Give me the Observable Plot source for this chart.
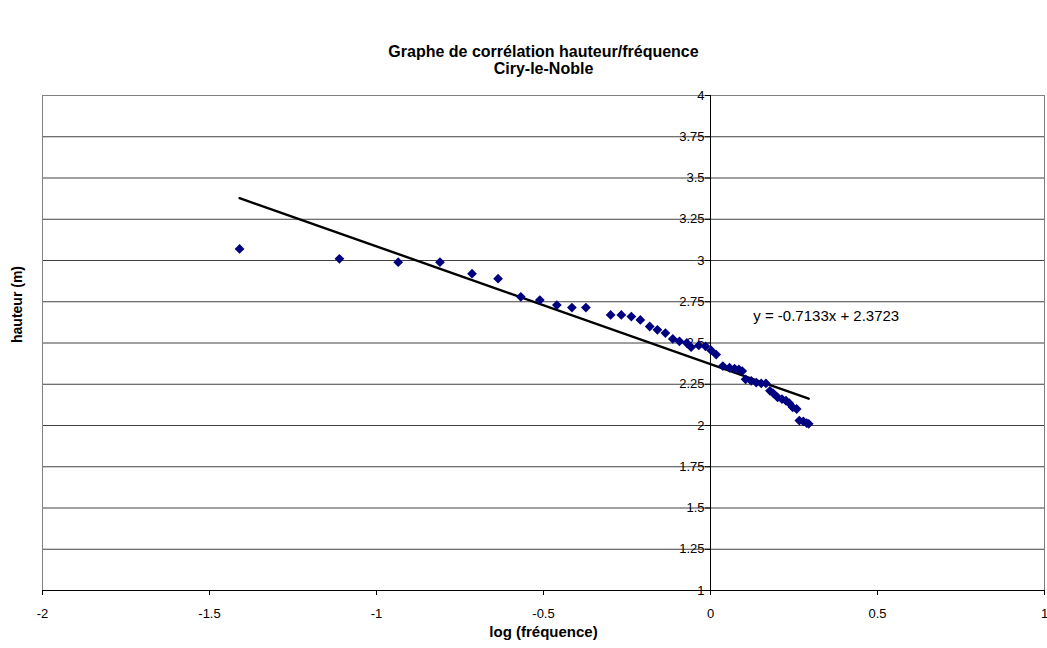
<!DOCTYPE html>
<html><head><meta charset="utf-8">
<script src="https://cdn.jsdelivr.net/npm/d3@7"></script>
<script src="https://cdn.jsdelivr.net/npm/@observablehq/plot@0.6"></script>
<style>body{margin:0;background:#fff;font-family:"Liberation Sans",Arial,sans-serif;}</style>
</head><body><div id="chart"></div>
<script>
const logFreq = [-1.410,-1.111,-0.935,-0.810,-0.714,-0.636,-0.568,-0.511,-0.460,-0.415,-0.373,
 -0.299,-0.267,-0.237,-0.210,-0.182,-0.159,-0.135,-0.113,-0.093,-0.071,-0.058,-0.035,-0.015,
 0.002,0.017,0.037,0.057,0.072,0.085,0.095,0.105,0.122,0.137,0.152,0.166,0.178,0.188,0.201,
 0.214,0.226,0.236,0.246,0.258,0.266,0.278,0.288,0.294];
const hauteur = [3.07,3.01,2.99,2.99,2.92,2.89,2.78,2.76,2.73,2.715,2.715,
 2.67,2.67,2.66,2.64,2.60,2.58,2.56,2.525,2.51,2.50,2.475,2.485,2.48,
 2.455,2.43,2.36,2.35,2.345,2.34,2.33,2.28,2.27,2.26,2.255,2.255,2.21,2.195,2.17,
 2.16,2.15,2.135,2.11,2.10,2.03,2.025,2.015,2.01];
const slope = -0.7133, intercept = 2.3723;
const xTicks = [-2,-1.5,-1,-0.5,0,0.5,1];
const yTicks = [1,1.25,1.5,1.75,2,2.25,2.5,2.75,3,3.25,3.5,3.75,4];
const titleLines = ["Graphe de corrélation hauteur/fréquence","Ciry-le-Noble"];
const eqLabel = "y = -0.7133x + 2.3723";

const pts = logFreq.map((x,i)=>({x, y: hauteur[i]}));
const xr = d3.extent(logFreq);
const trend = xr.map(x=>({x, y: slope*x+intercept}));

const chart = Plot.plot({
  width:1047, height:648,
  marginTop:95, marginBottom:58, marginLeft:42, marginRight:3,
  style:{fontFamily:"Liberation Sans, Arial, sans-serif", fontSize:"13px", color:"#000", background:"#fff", overflow:"visible"},
  x:{domain:[-2,1]},
  y:{domain:[1,4], axis:null},
  marks:[
    Plot.ruleY(yTicks,{stroke:"#000", strokeWidth:1, strokeOpacity:0.75}),
    Plot.frame({stroke:"#808080"}),
    Plot.ruleX([0],{stroke:"#000"}),
    Plot.ruleY([1],{stroke:"#000"}),
    Plot.ruleY(yTicks,{x1:0,x2:0,insetLeft:-5,stroke:"#000"}),
    Plot.text(yTicks,{x:0,y:d=>d,text:d=>String(d),textAnchor:"end",dx:-6,fontSize:13}),
    Plot.axisX({ticks:xTicks, tickSize:5, tickPadding:13, tickFormat:d=>String(d), label:null, fontSize:13}),
    Plot.line(trend,{x:"x",y:"y",stroke:"#000",strokeWidth:2.4}),
    Plot.dot(pts,{x:"x",y:"y",symbol:"diamond2",r:4.4,fill:"#000080",stroke:"none"}),
    Plot.text([eqLabel],{x:0.128,y:2.66,text:d=>d,textAnchor:"start",fontSize:15}),
    Plot.text([titleLines[0]],{frameAnchor:"top",dy:-50,text:d=>d,fontWeight:"bold",fontSize:16}),
    Plot.text([titleLines[1]],{frameAnchor:"top",dy:-33,text:d=>d,fontWeight:"bold",fontSize:16}),
    Plot.text(["log (fréquence)"],{frameAnchor:"bottom",dy:46,text:d=>d,fontWeight:"bold",fontSize:15}),
    Plot.text(["hauteur (m)"],{frameAnchor:"left",dx:-25,rotate:-90,text:d=>d,fontWeight:"bold",fontSize:14})
  ]
});
document.getElementById("chart").appendChild(chart);
</script></body></html>
